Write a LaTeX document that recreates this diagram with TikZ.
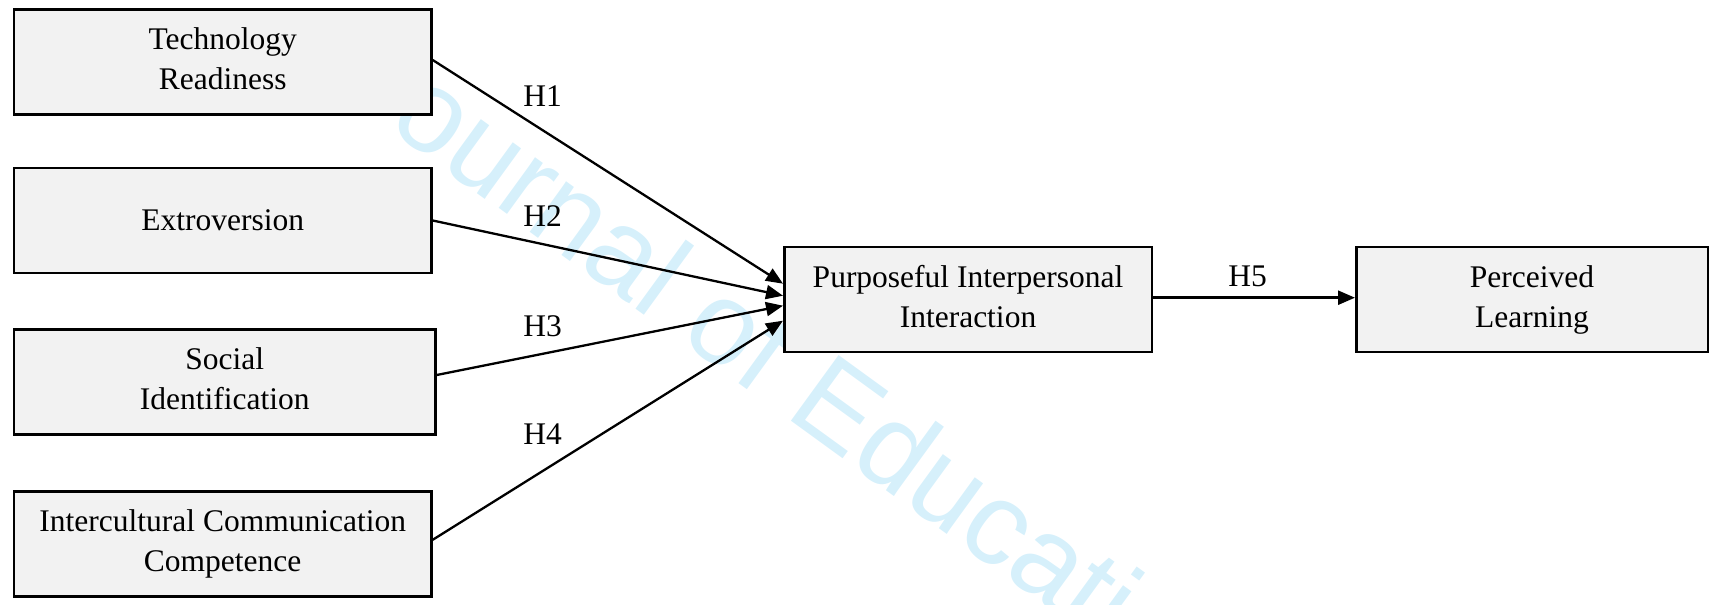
\documentclass[tikz,border=0pt]{standalone}
\usepackage{fontspec}
\setmainfont{Liberation Serif}
\newfontfamily\wmfont{Liberation Sans}
\usetikzlibrary{arrows.meta}
\definecolor{boxfill}{RGB}{242,242,242}
\definecolor{wmblue}{RGB}{214,240,251}
\begin{document}
\begin{tikzpicture}[x=1pt,y=-1pt,
  box/.style={draw=black, line width=2.5pt, fill=boxfill, align=center, inner sep=0pt,
    font=\fontsize{31.5}{39.7}\selectfont},
  lowtext/.style={text depth=7pt},
  lbl/.style={inner sep=0pt, font=\fontsize{31.5}{39.7}\selectfont},
  arr/.style={line width=2.3pt, -{Triangle[length=17pt,width=14pt]}}]
\useasboundingbox (0,0) rectangle (1711,605);
\begin{scope}
  \clip (0,0) rectangle (1711,605);
  \node[anchor=base west, rotate=-36, text=wmblue, inner sep=0pt,
    font=\wmfont\fontsize{118}{118}\selectfont] (wm) at (338,92) {Journal of Education};
\end{scope}
\node[box, lowtext, minimum width=417.5pt, minimum height=105pt] (tr) at (222.7,62) {Technology\\Readiness};
\node[box, minimum width=417.5pt, minimum height=105pt] (ex) at (222.7,220.5) {Extroversion};
\node[box, lowtext, minimum width=421.5pt, minimum height=105pt] (si) at (224.7,382) {Social\\Identification};
\node[box, minimum width=417.5pt, minimum height=105pt] (icc) at (222.7,543.8) {Intercultural Communication\\Competence};
\node[box, lowtext, minimum width=367.5pt, minimum height=105pt] (pii) at (968,299.7) {Purposeful Interpersonal\\Interaction};
\node[box, minimum width=351.5pt, minimum height=105pt] (pl) at (1532,299.7) {Perceived\\Learning};
\coordinate (e1) at ([yshift=16pt]pii.west);
\coordinate (e2) at ([yshift=4pt]pii.west);
\coordinate (e3) at ([yshift=-6pt]pii.west);
\coordinate (e4) at ([yshift=-21pt]pii.west);
\draw[arr] ([yshift=2pt]tr.east) -- (e1);
\draw[arr] (ex.east) -- (e2);
\draw[arr] ([yshift=7pt]si.east) -- (e3);
\draw[arr] ([yshift=4pt]icc.east) -- (e4);
\draw[arr, line width=2.5pt] ([yshift=2pt]pii.east) -- ([yshift=2pt]pl.west);
\node[lbl] (h1) at (542.5,95.7) {H1};
\node[lbl] (h2) at (542.5,216) {H2};
\node[lbl] (h3) at (542.5,326) {H3};
\node[lbl] (h4) at (542.5,434) {H4};
\node[lbl] (h5) at (1247.6,276.3) {H5};
\end{tikzpicture}
\end{document}
